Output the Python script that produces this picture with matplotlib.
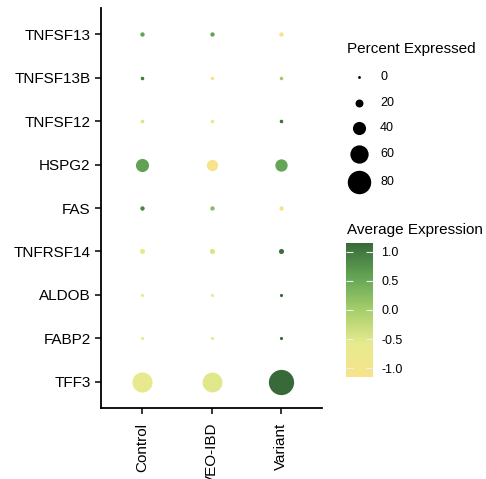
import numpy as np
import matplotlib
matplotlib.use("Agg")
import matplotlib.pyplot as plt
from matplotlib.colors import LinearSegmentedColormap, Normalize
from matplotlib.cm import ScalarMappable

plt.rcParams['font.family'] = ['Liberation Sans', 'DejaVu Sans']

groups = ["Control", "VEO-IBD", "Variant"]
genes = ["TFF3", "FABP2", "ALDOB", "TNFRSF14", "FAS", "HSPG2", "TNFSF12", "TNFSF13B", "TNFSF13"]

# percent expressed per gene (rows follow `genes`), columns follow `groups`
pct = {
    "TFF3":     [67, 66, 87],
    "FABP2":    [1, 1, 1.5],
    "ALDOB":    [1, 1, 1.5],
    "TNFRSF14": [9, 9, 9],
    "FAS":      [6, 6, 6],
    "HSPG2":    [40, 33, 37],
    "TNFSF12":  [3, 3, 3],
    "TNFSF13B": [3, 3, 3],
    "TNFSF13":  [6, 6, 6],
}
# scaled average expression
avg = {
    "TFF3":     [-0.62, -0.53, 1.15],
    "FABP2":    [-0.58, -0.57, 1.15],
    "ALDOB":    [-0.58, -0.57, 1.15],
    "TNFRSF14": [-0.65, -0.45, 1.10],
    "FAS":      [0.90, 0.25, -1.10],
    "HSPG2":    [0.60, -1.15, 0.55],
    "TNFSF12":  [-0.45, -0.65, 1.10],
    "TNFSF13B": [1.00, -1.05, 0.05],
    "TNFSF13":  [0.58, 0.58, -1.15],
}
size_breaks = [0, 20, 40, 60, 80]
color_breaks = [1.0, 0.5, 0.0, -0.5, -1.0]
vlim = 1.155

DPI = 100
W, H = 486, 479

def diam_px(p):
    return 2.8 + 0.258 * np.asarray(p, dtype=float)

def area(p):
    return (diam_px(p) * 72.0 / DPI) ** 2

cmap = LinearSegmentedColormap.from_list(
    "ylgn", [(0.0, "#F7E38B"), (0.25, "#E6EA8E"), (0.5, "#A6CE6B"),
             (0.75, "#62A455"), (1.0, "#386A39")])
norm = Normalize(-vlim, vlim)

fig = plt.figure(figsize=(W / DPI, H / DPI), dpi=DPI)
ax = fig.add_axes([101 / W, 1 - 408 / H, (322 - 101) / W, 400 / H])

for gi, g in enumerate(genes):
    for ci in range(len(groups)):
        ax.scatter(ci + 1, gi + 1, s=area(pct[g][ci]), c=[cmap(norm(avg[g][ci]))],
                   linewidths=0, zorder=3)

ax.set_xlim(0.4, 3.6)
ax.set_ylim(0.4, 9.6)
ax.set_xticks(range(1, 4))
ax.set_xticklabels(groups, rotation=90, va="top", ha="center")
ax.set_yticks(range(1, 10))
ax.set_yticklabels(genes)
for s in ["top", "right"]:
    ax.spines[s].set_visible(False)
for s in ["left", "bottom"]:
    ax.spines[s].set_linewidth(1.3)
ax.tick_params(axis="both", length=4.5, width=1.1, labelsize=11, colors="black", pad=3)
ax.tick_params(axis="x", pad=6)

# size legend
lax = fig.add_axes([0, 0, 1, 1])
lax.set_xlim(0, W)
lax.set_ylim(H, 0)
lax.axis("off")
lax.text(347, 49, "Percent Expressed", fontsize=11, va="center", ha="left")
leg_y = [77, 103, 128, 154, 182]
for b, y in zip(size_breaks, leg_y):
    lax.scatter(359, y, s=area(b), c="black", linewidths=0)
    lax.text(380, y, str(b), fontsize=9, va="center", ha="left")

lax.text(347, 230, "Average Expression", fontsize=11, va="center", ha="left")

# colorbar
cax = fig.add_axes([346 / W, 1 - 377 / H, 27 / W, 134 / H])
cb = fig.colorbar(ScalarMappable(norm=norm, cmap=cmap), cax=cax)
cb.outline.set_visible(False)
cb.set_ticks(color_breaks)
cb.set_ticklabels([f"{v:.1f}".replace("\u2212", "-") for v in color_breaks])
cax.yaxis.set_ticks_position("both")
cax.tick_params(axis="y", direction="in", length=5, width=0.8, color="#EEEEEE",
                labelsize=9, labelcolor="black", pad=6, left=True, right=True,
                labelleft=False, labelright=True)

fig.savefig("out.png", dpi=DPI)
